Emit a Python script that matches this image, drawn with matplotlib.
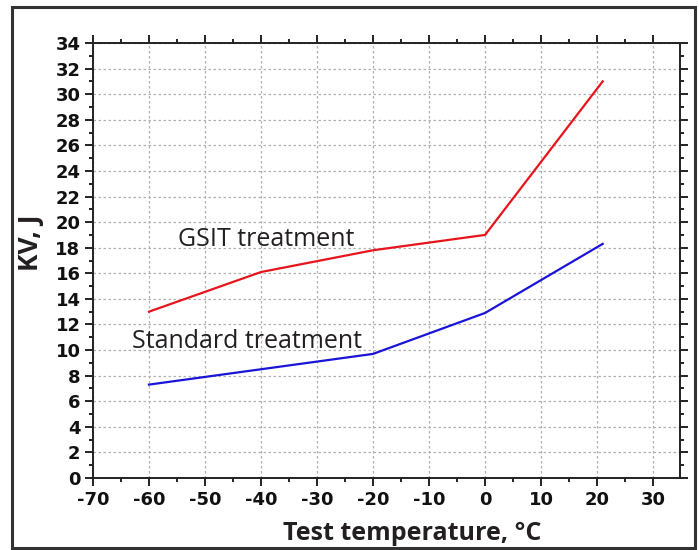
import numpy as np
import matplotlib
matplotlib.use("Agg")
import matplotlib.pyplot as plt
from matplotlib.patches import Rectangle
from matplotlib.ticker import MultipleLocator

plt.rcParams['axes.unicode_minus'] = False

# data
temps = [-60, -40, -20, 0, 21]
kv_gsit = [13.0, 16.1, 17.8, 19.0, 31.0]
kv_standard = [7.3, 8.5, 9.7, 12.9, 18.3]

fig = plt.figure(figsize=(6.99, 5.5), dpi=100)

# outer frame around the whole figure
fig.patches.append(Rectangle((0.0172, 0.0036), 0.977, 0.983, transform=fig.transFigure,
                             fill=False, edgecolor='#333333', linewidth=2.2))

ax = fig.add_axes([0.133, 0.1309, 0.8398, 0.7909])

ax.plot(temps, kv_gsit, color='#e8141c', linewidth=1.6)
ax.plot(temps, kv_standard, color='#1a14d8', linewidth=1.6)

ax.text(-54.8, 18.1, "GSIT treatment", fontsize=18, family='Open Sans', color='#231f20')
ax.text(-63.0, 10.2, "Standard treatment", fontsize=18, family='Open Sans', color='#231f20')

ax.set_xlim(-70, 34.8)
ax.set_ylim(0, 34)
ax.xaxis.set_major_locator(MultipleLocator(10))
ax.xaxis.set_minor_locator(MultipleLocator(5))
ax.yaxis.set_major_locator(MultipleLocator(2))
ax.yaxis.set_minor_locator(MultipleLocator(1))

ax.grid(True, which='major', color='#b0b0b0', linestyle=(0, (2, 2)), linewidth=0.9)

ax.tick_params(which='both', direction='out', right=True, width=1.4, colors='#222222')
ax.tick_params(which='major', length=6)
ax.tick_params(which='minor', length=3)
ax.tick_params(axis='x', which='both', top=True)
ax.tick_params(labelsize=13, labelcolor='#111111', pad=3)
for lbl in ax.get_xticklabels() + ax.get_yticklabels():
    lbl.set_fontweight('bold')

for sp in ax.spines.values():
    sp.set_linewidth(1.4)
    sp.set_color('#222222')

ax.set_xlabel("Test temperature, °C", fontsize=18, fontweight='bold', family='Open Sans',
              color='#231f20')
ax.xaxis.set_label_coords(0.544, -0.099, transform=ax.transAxes)
ax.xaxis.label.set_va('top')
fig.text(0.043, 0.558, "KV, J", rotation=90, fontsize=19, fontweight='bold', family='Open Sans',
         color='#231f20', ha='center', va='center')

fig.savefig("out.png", dpi=100)
